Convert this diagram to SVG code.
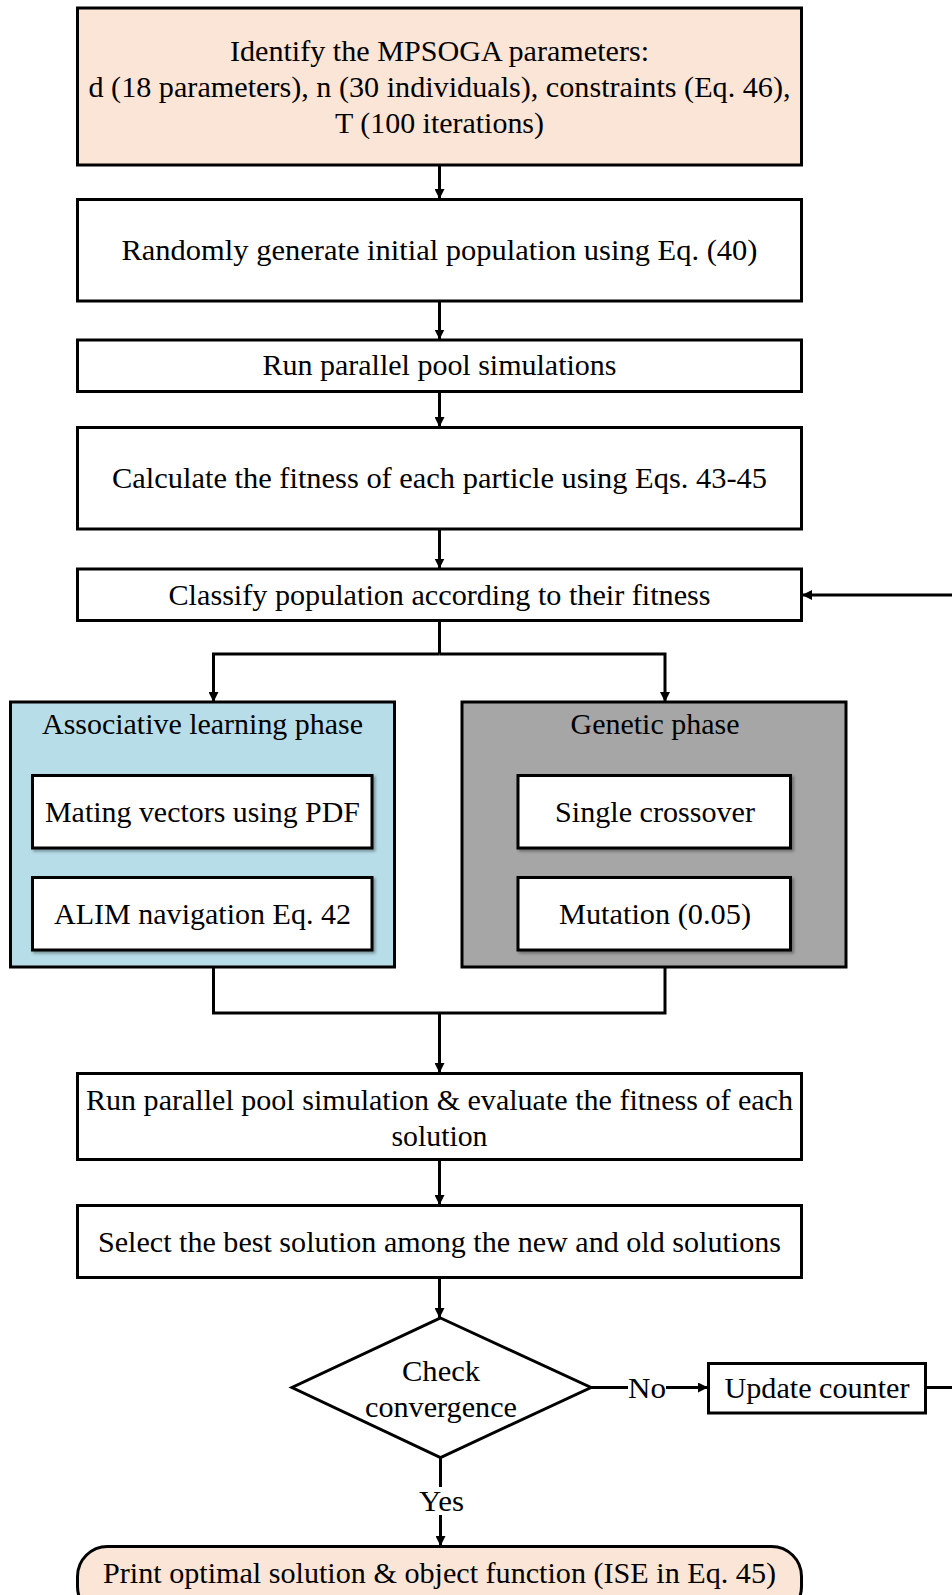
<svg xmlns="http://www.w3.org/2000/svg" width="952" height="1595" viewBox="0 0 952 1595">
<defs>
<marker id="ah" viewBox="0 0 10 10" refX="10" refY="5" markerWidth="10" markerHeight="10" markerUnits="userSpaceOnUse" orient="auto">
<path d="M0,0 L10,5 L0,10 z" fill="#000"/>
</marker>
<filter id="sh" x="-5%" y="-10%" width="112%" height="130%">
<feDropShadow dx="2" dy="2" stdDeviation="1.5" flood-color="#000" flood-opacity="0.35"/>
</filter>
</defs>
<style>
.box{stroke:#000;stroke-width:3;fill:#fff}
.peach{fill:#FBE5D6}
.blue{fill:#B7DDE8}
.gray{fill:#A6A6A6}
.t{font-family:"Liberation Serif","Times New Roman",serif;font-size:30px;fill:#000;text-anchor:middle}
.c{stroke:#000;stroke-width:3;fill:none}
.a{stroke:#000;stroke-width:3;fill:none;marker-end:url(#ah)}
</style>
<rect width="952" height="1595" fill="#fff"/>

<g id="connectors">
<line class="a" x1="439.5" y1="165" x2="439.5" y2="199"/>
<line class="a" x1="439.5" y1="301" x2="439.5" y2="339.5"/>
<line class="a" x1="439.5" y1="391.5" x2="439.5" y2="427"/>
<line class="a" x1="439.5" y1="529" x2="439.5" y2="568.5"/>
<line class="a" x1="952" y1="595" x2="802" y2="595"/>
<polyline class="c" points="439.5,620.5 439.5,654"/>
<polyline class="a" points="439.5,654 213.5,654 213.5,702"/>
<polyline class="a" points="439.5,654 665,654 665,702"/>
<polyline class="c" points="213.5,967 213.5,1013 665,1013 665,967"/>
<line class="a" x1="439.5" y1="1013" x2="439.5" y2="1073"/>
<line class="a" x1="439.5" y1="1159.5" x2="439.5" y2="1205"/>
<line class="a" x1="439.5" y1="1277.5" x2="439.5" y2="1318"/>
<line class="c" x1="591" y1="1387.5" x2="628" y2="1387.5"/>
<line class="a" x1="666" y1="1387.5" x2="708" y2="1387.5"/>
<line class="c" x1="925.5" y1="1387.5" x2="952" y2="1387.5"/>
<line class="c" x1="440.5" y1="1457.5" x2="440.5" y2="1487"/>
<line class="a" x1="440.5" y1="1515" x2="440.5" y2="1546"/>
<text class="t" x="647" y="1398" textLength="38" lengthAdjust="spacingAndGlyphs">No</text>
<text class="t" x="441.5" y="1511" textLength="45" lengthAdjust="spacingAndGlyphs">Yes</text>
</g>

<g id="n1">
<rect class="box peach" x="77.5" y="8" width="724" height="157"/>
<text class="t" x="439.5" y="61" textLength="419" lengthAdjust="spacingAndGlyphs">Identify the MPSOGA parameters:</text>
<text class="t" x="439.5" y="97" textLength="702" lengthAdjust="spacingAndGlyphs">d (18 parameters), n (30 individuals), constraints (Eq. 46),</text>
<text class="t" x="439.5" y="133" textLength="209" lengthAdjust="spacingAndGlyphs">T (100 iterations)</text>
</g>

<g id="n2">
<rect class="box" x="77.5" y="199.5" width="724" height="101.5"/>
<text class="t" x="439.5" y="260" textLength="636" lengthAdjust="spacingAndGlyphs">Randomly  generate initial population using Eq. (40)</text>
</g>

<g id="n3">
<rect class="box" x="77.5" y="340" width="724" height="51.5"/>
<text class="t" x="439.5" y="375" textLength="354" lengthAdjust="spacingAndGlyphs">Run parallel pool simulations</text>
</g>

<g id="n4">
<rect class="box" x="77.5" y="427.5" width="724" height="101.5"/>
<text class="t" x="439.5" y="488" textLength="655" lengthAdjust="spacingAndGlyphs">Calculate  the fitness of each particle using Eqs. 43-45</text>
</g>

<g id="n5">
<rect class="box" x="77.5" y="569" width="724" height="51.5"/>
<text class="t" x="439.5" y="605" textLength="542" lengthAdjust="spacingAndGlyphs">Classify population according to their fitness</text>
</g>

<g id="n6">
<rect class="box blue" x="10.5" y="702" width="384" height="265"/>
<text class="t" x="202.5" y="734" textLength="321" lengthAdjust="spacingAndGlyphs">Associative learning phase</text>
</g>
<g id="n7">
<rect class="box" x="32.5" y="775.5" width="339.5" height="72.5" filter="url(#sh)"/>
<text class="t" x="202.5" y="822" textLength="315" lengthAdjust="spacingAndGlyphs">Mating vectors using PDF</text>
</g>
<g id="n8">
<rect class="box" x="32.5" y="877.5" width="339.5" height="72.5" filter="url(#sh)"/>
<text class="t" x="202.5" y="924" textLength="297" lengthAdjust="spacingAndGlyphs">ALIM navigation Eq. 42</text>
</g>

<g id="n9">
<rect class="box gray" x="462" y="702" width="384" height="265"/>
<text class="t" x="655" y="734" textLength="169" lengthAdjust="spacingAndGlyphs">Genetic phase</text>
</g>
<g id="n10">
<rect class="box" x="518" y="775.5" width="272.5" height="72.5" filter="url(#sh)"/>
<text class="t" x="655" y="822" textLength="200" lengthAdjust="spacingAndGlyphs">Single crossover</text>
</g>
<g id="n11">
<rect class="box" x="518" y="877.5" width="272.5" height="72.5" filter="url(#sh)"/>
<text class="t" x="655" y="924" textLength="192" lengthAdjust="spacingAndGlyphs">Mutation (0.05)</text>
</g>

<g id="n12">
<rect class="box" x="77.5" y="1073.5" width="724" height="86"/>
<text class="t" x="439.5" y="1110" textLength="707" lengthAdjust="spacingAndGlyphs">Run parallel pool simulation &amp; evaluate the fitness of each</text>
<text class="t" x="439.5" y="1146" textLength="96" lengthAdjust="spacingAndGlyphs">solution</text>
</g>

<g id="n13">
<rect class="box" x="77.5" y="1205.5" width="724" height="72"/>
<text class="t" x="439.5" y="1252" textLength="683" lengthAdjust="spacingAndGlyphs">Select the best solution among the new and old solutions</text>
</g>

<g id="n14">
<polygon class="box" points="440.5,1318 591,1387.5 440.5,1457.5 292,1387.5"/>
<text class="t" x="441" y="1381" textLength="78" lengthAdjust="spacingAndGlyphs">Check</text>
<text class="t" x="441" y="1417" textLength="152" lengthAdjust="spacingAndGlyphs">convergence</text>
</g>

<g id="n15">
<rect class="box" x="708.5" y="1363.5" width="217" height="49.5"/>
<text class="t" x="817" y="1398" textLength="185" lengthAdjust="spacingAndGlyphs">Update counter</text>
</g>

<g id="n16">
<rect class="box peach" x="77.5" y="1546.5" width="724" height="70" rx="30" ry="30"/>
<text class="t" x="439.5" y="1583" textLength="673" lengthAdjust="spacingAndGlyphs">Print optimal solution &amp; object function (ISE in Eq. 45)</text>
</g>
</svg>
